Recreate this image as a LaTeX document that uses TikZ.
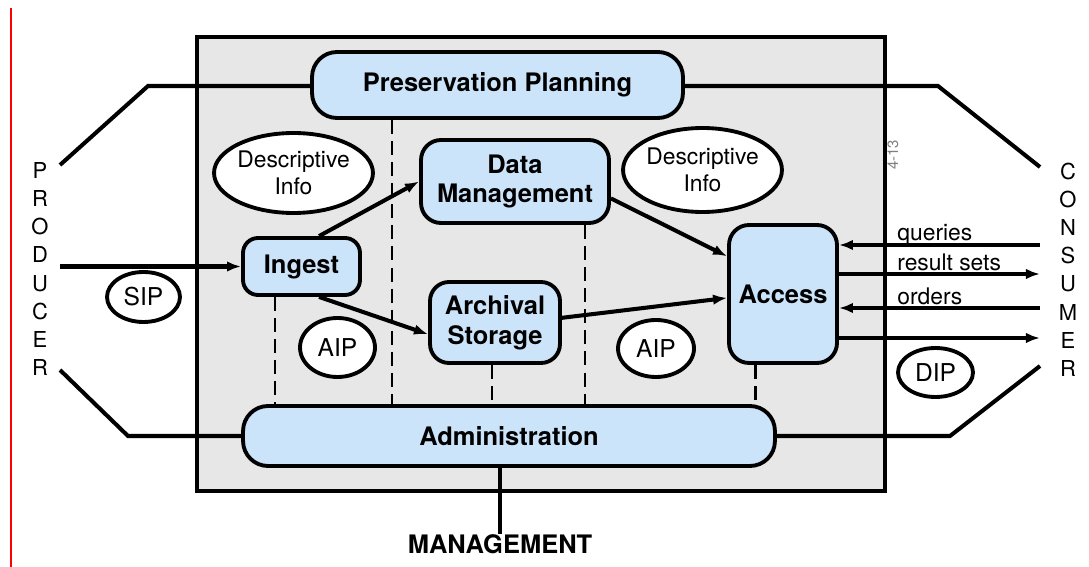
\documentclass[tikz,border=0pt]{standalone}
\usepackage{fontspec}
\setmainfont{TeX Gyre Heros}
\usepackage{tikz}
\usetikzlibrary{shapes.geometric,arrows.meta}

\definecolor{oaisblue}{RGB}{204,228,250}
\definecolor{oaisgray}{RGB}{231,231,231}

\tikzset{
  box/.style={draw, line width=2.2pt, fill=oaisblue, inner sep=0pt, align=center,
    font=\fontsize{14.5}{17}\selectfont\bfseries},
  blob/.style={draw, ellipse, line width=2.2pt, fill=white, inner sep=0pt, align=center,
    font=\fontsize{13}{15}\selectfont},
  arr/.style={line width=2.3pt, -{Latex[length=8pt,width=6pt]}},
  dsh/.style={line width=1.7pt, dash pattern=on 8pt off 4pt},
  lbl/.style={inner sep=0pt, font=\fontsize{13}{15}\selectfont},
  side/.style={inner sep=0pt, align=center, font=\fontsize{12.5}{16.05}\selectfont},
  wire/.style={line width=2.3pt}
}

\begin{document}
\begin{tikzpicture}[x=0.02cm, y=-0.02cm]
    \useasboundingbox (0,0) rectangle (1089,567);
    \draw[red, line width=1.2pt] (11,8) -- (11,567);
    \draw[line width=1.8pt, fill=oaisgray] (197,37) rectangle (885,491);

    % functional entities
    \node[box, rounded corners=0.5cm, minimum width=7.42cm, minimum height=1.32cm] (pp) at (497.5,85) {Preservation Planning};
    \node[box, rounded corners=0.4cm, minimum width=3.76cm, minimum height=1.66cm] (dm) at (515,181.5) {Data\\Management};
    \node[box, rounded corners=0.3cm, minimum width=2.34cm, minimum height=1.14cm] (ingest) at (301.5,266.5) {Ingest};
    \node[box, rounded corners=0.38cm, minimum width=2.6cm, minimum height=1.62cm] (as) at (495,322.5) {Archival\\Storage};
    \node[box, rounded corners=0.4cm, minimum width=2.16cm, minimum height=2.76cm] (access) at (783,294) {Access};
    \node[box, rounded corners=0.5cm, minimum width=10.64cm, minimum height=1.2cm] (adm) at (509,436) {Administration};

    \node[blob, minimum width=2.98cm, minimum height=1.6cm] (descl) at (293.5,173) {Descriptive\\Info};
    \node[blob, minimum width=2.98cm, minimum height=1.68cm] (descr) at (702.5,170) {Descriptive\\Info};
    \node[blob, minimum width=1.46cm, minimum height=1.0cm, font=\fontsize{14}{16}\selectfont] (sip) at (143.5,297) {SIP};
    \node[blob, minimum width=1.5cm, minimum height=1.18cm, font=\fontsize{14}{16}\selectfont] (aipl) at (337.5,347.5) {AIP};
    \node[blob, minimum width=1.52cm, minimum height=1.14cm, font=\fontsize{14}{16}\selectfont] (aipr) at (656,348.5) {AIP};
    \node[blob, minimum width=1.5cm, minimum height=0.98cm, font=\fontsize{14}{16}\selectfont] (dip) at (935.5,372.5) {DIP};

    \node[side] (prod) at (40,269) {P\\R\\O\\D\\U\\C\\E\\R};
    \node[side] (cons) at (1068,269.5) {C\\O\\N\\S\\U\\M\\E\\R};
    \node[inner sep=0pt, font=\fontsize{14.5}{17}\selectfont\bfseries] (mgmt) at (500,544) {MANAGEMENT};
    \node[inner sep=0pt, rotate=90, text=gray, font=\fontsize{8.5}{9}\selectfont] (fig) at (893,155) {4-13};

    % ends of the outer lines
    \coordinate (pl1) at (148,86);
    \coordinate (pl2) at (60,165);
    \coordinate (pr1) at (938,86);
    \coordinate (pr2) at (1040,167);
    \coordinate (al1) at (128,436);
    \coordinate (al2) at (60,370);
    \coordinate (ar1) at (950,436);
    \coordinate (ar2) at (1040,366);
    \draw[wire] (pp.west |- pl1) -- (pl1) -- (pl2);
    \draw[wire] (pp.east |- pr1) -- (pr1) -- (pr2);
    \draw[wire] (adm.west) -- (al1) -- (al2);
    \draw[wire] (adm.east) -- (ar1) -- (ar2);
    \draw[wire] (mgmt.north |- adm.south) -- (mgmt.north);

    % dashed links to administration
    \coordinate (d1) at (275,0);
    \coordinate (d2) at (392,0);
    \coordinate (d3) at (492,0);
    \coordinate (d4) at (585,0);
    \coordinate (d5) at (755,0);
    \draw[dsh] (ingest.south -| d1) -- (adm.north -| d1);
    \draw[dsh] (pp.south -| d2) -- (adm.north -| d2);
    \draw[dsh] (as.south -| d3) -- (adm.north -| d3);
    \draw[dsh] (dm.south -| d4) -- (adm.north -| d4);
    \draw[dsh] (access.south -| d5) -- (adm.north -| d5);

    % flows
    \coordinate (sipin) at (60,266.5);
    \draw[arr] (sipin) -- (ingest.west);
    \draw[arr] (ingest.60) -- (dm.west);
    \draw[arr] (ingest.-60) -- (as.190);
    \draw[arr] (dm.-10) -- (access.146);
    \draw[arr] (as.4) -- (access.184);

    \coordinate (cq) at (1040,245);
    \coordinate (cr) at (1040,274);
    \coordinate (co) at (1040,308);
    \coordinate (cd) at (1040,338);
    \draw[arr] (cq) -- (access.east |- cq);
    \draw[arr] (access.east |- cr) -- (cr);
    \draw[arr] (co) -- (access.east |- co);
    \draw[arr] (access.east |- cd) -- (cd);
    \node[lbl, anchor=base west] (lq) at (897,241) {queries};
    \node[lbl, anchor=base west] (lr) at (897,271) {result sets};
    \node[lbl, anchor=base west] (lo) at (897,305) {orders};
\end{tikzpicture}
\end{document}
